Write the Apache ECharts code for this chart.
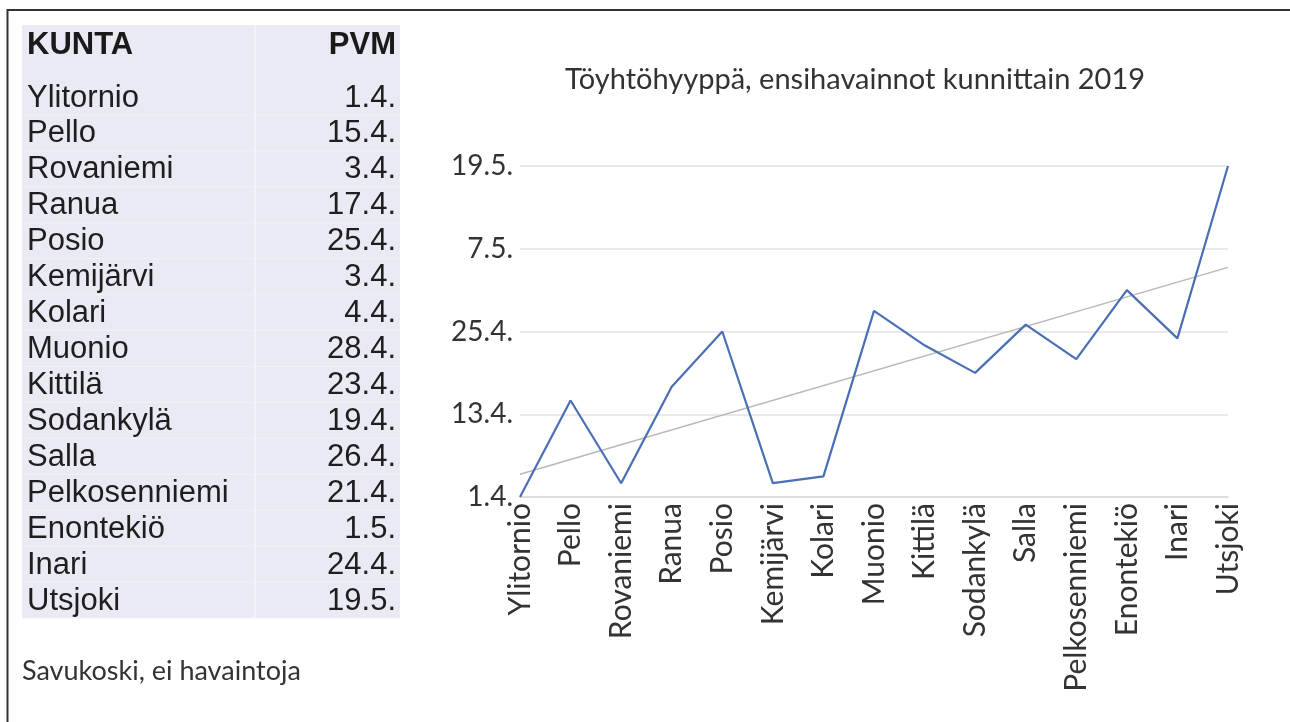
<!DOCTYPE html>
<html>
<head>
<meta charset="utf-8">
<script src="https://cdn.jsdelivr.net/npm/echarts@6/dist/echarts.min.js"></script>
<style>
html,body{margin:0;padding:0;background:#fff;}
#chart{width:1290px;height:722px;}
</style>
</head>
<body>
<div id="chart"></div>
<script>
// Municipalities (chart order) and first-sighting dates
const categories = ['Ylitornio','Pello','Rovaniemi','Ranua','Posio','Kemijärvi','Kolari','Muonio','Kittilä','Sodankylä','Salla','Pelkosenniemi','Enontekiö','Inari','Utsjoki'];
const dateLabels = ['1.4.','15.4.','3.4.','17.4.','25.4.','3.4.','4.4.','28.4.','23.4.','19.4.','26.4.','21.4.','1.5.','24.4.','19.5.'];
// days after 1.4.
const dayValues = [0,14,2,16,24,2,3,27,22,18,25,20,30,23,48];
// linear trend line read at first and last category
const trendEnds = [3.3, 33.3];
const yTickLabels = ['1.4.','13.4.','25.4.','7.5.','19.5.'];
const tableHeader = ['KUNTA','PVM'];
const footNote = 'Savukoski, ei havaintoja';
const titleText = 'Töyhtöhyyppä, ensihavainnot kunnittain 2019';

const trendData = categories.map((c,i)=> (i===0 ? trendEnds[0] : (i===categories.length-1 ? trendEnds[1] : null)));

const chart = echarts.init(document.getElementById('chart'), null, {renderer:'canvas'});

const rowY0 = 97, rowStep = 35.93;
const tableFont = '31px "Liberation Sans", Arial, sans-serif';
const graphics = [
  // outer frame
  {type:'line', shape:{x1:7,y1:10,x2:1290,y2:10}, style:{stroke:'#333',lineWidth:2}, z:10},
  {type:'line', shape:{x1:7.5,y1:9,x2:7.5,y2:722}, style:{stroke:'#333',lineWidth:2}, z:10},
  // table background
  {type:'rect', shape:{x:22,y:25,width:378,height:593}, style:{fill:'#e9eaf3'}, z:1},
  {type:'line', shape:{x1:255,y1:25,x2:255,y2:618}, style:{stroke:'#f2f2f8',lineWidth:2}, z:2},
  {type:'text', x:27, y:45, style:{text:tableHeader[0], font:'bold ' + tableFont, fill:'#1a1a1a', textVerticalAlign:'middle', textAlign:'left'}, z:5},
  {type:'text', x:396, y:45, style:{text:tableHeader[1], font:'bold ' + tableFont, fill:'#1a1a1a', textVerticalAlign:'middle', textAlign:'right'}, z:5},
  {type:'text', x:22, y:671, style:{text:footNote, font:'27px Lato, "Open Sans", sans-serif', fill:'#333', textVerticalAlign:'middle', textAlign:'left'}, z:5}
];
categories.forEach((c,i)=>{
  const y = rowY0 + i*rowStep;
  graphics.push({type:'line', shape:{x1:22,y1:y+18,x2:400,y2:y+18}, style:{stroke:'#f0f1f7',lineWidth:1}, z:2});
  graphics.push({type:'text', x:27, y:y+1, style:{text:c, font:tableFont, fill:'#1e1e1e', textVerticalAlign:'middle', textAlign:'left'}, z:5});
  graphics.push({type:'text', x:396, y:y+1, style:{text:dateLabels[i], font:tableFont, fill:'#1e1e1e', textVerticalAlign:'middle', textAlign:'right'}, z:5});
});

chart.setOption({
  animation:false,
  backgroundColor:'#fff',
  title:{
    text:titleText, left:850, top:60, textAlign:'center',
    textStyle:{fontFamily:'Lato, "Open Sans", sans-serif', fontSize:29, fontWeight:'normal', color:'#333'}
  },
  grid:{left:520, right:62, top:166, bottom:225, containLabel:false},
  xAxis:{
    type:'category', data:categories, boundaryGap:false,
    axisLine:{show:true, lineStyle:{color:'#d9d9d9', width:1.5}},
    axisTick:{show:false},
    axisLabel:{rotate:90, interval:0, margin:6, fontFamily:'Lato, "Open Sans", sans-serif', fontSize:30, color:'#333'},
    splitLine:{show:false}
  },
  yAxis:{
    type:'value', min:0, max:48, interval:12,
    axisLine:{show:false}, axisTick:{show:false},
    axisLabel:{margin:7, fontFamily:'Lato, "Open Sans", sans-serif', fontSize:28, color:'#333',
      formatter:(v)=> yTickLabels[Math.round(v/12)]},
    splitLine:{lineStyle:{color:'#e3e3e3', width:1.5}}
  },
  series:[
    {type:'line', data:trendData, connectNulls:true, symbol:'none',
     lineStyle:{color:'#b8b8b8', width:1.5}, z:2},
    {type:'line', data:dayValues, symbol:'none',
     lineStyle:{color:'#4a6fb5', width:2.2}, z:3}
  ],
  graphic:graphics
});
</script>
</body>
</html>
